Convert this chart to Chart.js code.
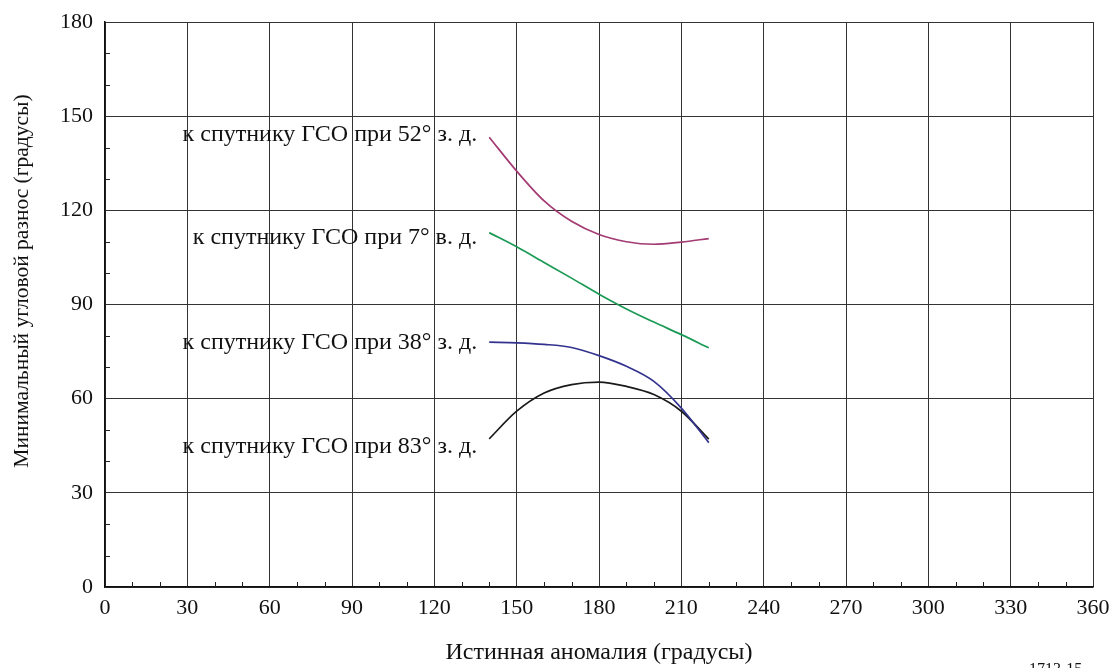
<!DOCTYPE html>
<html>
<head>
<meta charset="utf-8">
<script src="https://cdn.jsdelivr.net/npm/chart.js@4"></script>
<style>
  html, body { margin: 0; padding: 0; background: #fff; }
  #wrap { width: 1115px; height: 668px; position: relative; }
</style>
</head>
<body>
<div id="wrap"><canvas id="chart" width="1115" height="668"></canvas></div>
<script>
// data
const xVals = [140, 150, 160, 170, 180, 190, 200, 210, 220];
const w52 = [143.3, 132.5, 123.0, 116.5, 112.3, 110.0, 109.2, 109.9, 111.0];
const e7 = [112.9, 108.4, 103.4, 98.4, 93.3, 88.6, 84.4, 80.4, 76.2];
const w38 = [78.0, 77.8, 77.3, 76.3, 73.7, 70.3, 65.5, 57.0, 46.0];
const w83 = [47.2, 56.0, 61.8, 64.5, 65.3, 63.9, 61.3, 56.0, 47.1];

const xTicks = [0, 30, 60, 90, 120, 150, 180, 210, 240, 270, 300, 330, 360];
const yTicks = [0, 30, 60, 90, 120, 150, 180];

const curveLabels = [
  { text: 'к спутнику ГСО при 52° з. д.', x: 135.6, y: 144.0 },
  { text: 'к спутнику ГСО при 7° в. д.', x: 135.6, y: 111.4 },
  { text: 'к спутнику ГСО при 38° з. д.', x: 135.6, y: 77.9 },
  { text: 'к спутнику ГСО при 83° з. д.', x: 135.6, y: 44.7 }
];

const yTitle = 'Минимальный угловой разнос (градусы)';

const serif = "'Liberation Serif', 'DejaVu Serif', serif";

function pts(ys) {
  return xVals.map((x, i) => ({ x: x, y: ys[i] }));
}

function series(data, color) {
  return {
    data: pts(data),
    borderColor: color,
    borderWidth: 1.7,
    pointRadius: 0,
    cubicInterpolationMode: 'monotone',
    fill: false
  };
}

// inward minor ticks, curve labels, y title, figure number
const extras = {
  id: 'extras',
  afterDraw(chart) {
    const ctx = chart.ctx;
    const xs = chart.scales.x, ys = chart.scales.y;
    const a = chart.chartArea;
    ctx.save();
    ctx.strokeStyle = '#222';
    ctx.lineWidth = 1;
    for (let v = 0; v <= 360; v += 10) {
      if (v % 30 === 0) continue;
      const px = Math.round(xs.getPixelForValue(v)) + 0.5;
      ctx.beginPath();
      ctx.moveTo(px, a.bottom);
      ctx.lineTo(px, a.bottom - 5);
      ctx.stroke();
    }
    for (let v = 0; v <= 180; v += 10) {
      if (v % 30 === 0) continue;
      const py = Math.round(ys.getPixelForValue(v)) + 0.5;
      ctx.beginPath();
      ctx.moveTo(a.left, py);
      ctx.lineTo(a.left + 5, py);
      ctx.stroke();
    }

    ctx.fillStyle = '#111';
    ctx.font = '24px ' + serif;
    ctx.textAlign = 'right';
    ctx.textBaseline = 'middle';
    curveLabels.forEach(l => {
      ctx.fillText(l.text, xs.getPixelForValue(l.x), ys.getPixelForValue(l.y));
    });

    ctx.save();
    ctx.translate(22, 281);
    ctx.rotate(-Math.PI / 2);
    ctx.font = '21.5px ' + serif;
    ctx.textAlign = 'center';
    ctx.fillText(yTitle, 0, 0);
    ctx.restore();

    ctx.font = '16px ' + serif;
    ctx.textAlign = 'left';
    ctx.textBaseline = 'alphabetic';
    ctx.fillText('1713-15', 1029, 674);
    ctx.restore();
  }
};

new Chart(document.getElementById('chart'), {
  type: 'line',
  data: {
    datasets: [
      series(w52, '#a33a72'),
      series(e7, '#1b9a55'),
      series(w38, '#33338f'),
      series(w83, '#1a1a1a')
    ]
  },
  options: {
    responsive: false,
    animation: false,
    events: [],
    layout: { padding: { top: 22, right: 22, left: 0, bottom: 0 } },
    plugins: { legend: { display: false }, tooltip: { enabled: false } },
    scales: {
      x: {
        type: 'linear',
        min: 0, max: 360,
        afterBuildTicks: s => { s.ticks = xTicks.map(v => ({ value: v })); },
        afterFit: s => { s.height = 81; s.paddingLeft = 0; s.paddingRight = 0; },
        grid: { color: '#333', lineWidth: 1, drawTicks: false },
        border: { color: '#111', width: 1.5 },
        ticks: { color: '#111', padding: 8, font: { family: serif, size: 22 } },
        title: {
          display: true,
          text: 'Истинная аномалия (градусы)',
          color: '#111',
          font: { family: serif, size: 24 },
          padding: { top: 0, bottom: 1 }
        }
      },
      y: {
        type: 'linear',
        min: 0, max: 180,
        afterBuildTicks: s => { s.ticks = yTicks.map(v => ({ value: v })); },
        afterFit: s => { s.width = 105; s.paddingTop = 0; s.paddingBottom = 0; },
        grid: { color: '#333', lineWidth: 1, drawTicks: false },
        border: { color: '#111', width: 1.5 },
        ticks: { color: '#111', padding: 12, font: { family: serif, size: 22 } }
      }
    }
  },
  plugins: [extras]
});
</script>
</body>
</html>
